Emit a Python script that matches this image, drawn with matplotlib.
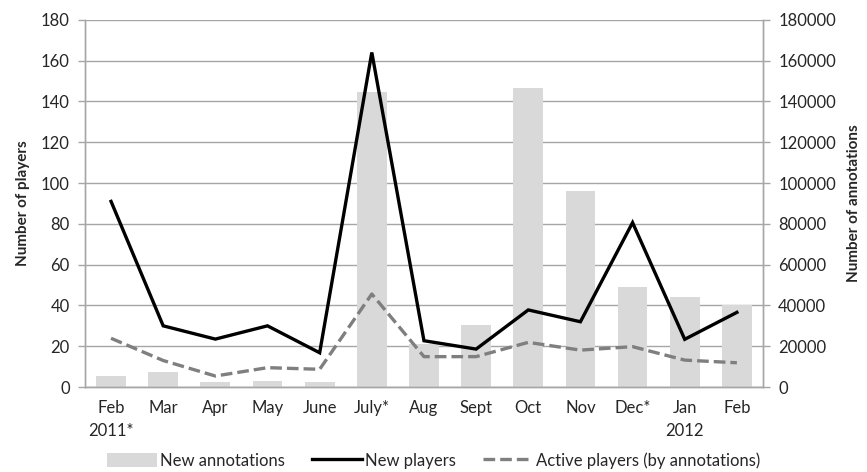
import matplotlib
matplotlib.use("Agg")
import matplotlib.pyplot as plt
import numpy as np
from matplotlib.patches import Patch
from matplotlib.lines import Line2D

plt.rcParams['font.family'] = ['Lato', 'DejaVu Sans']

months = ["Feb\n2011*", "Mar", "Apr", "May", "June", "July*", "Aug",
          "Sept", "Oct", "Nov", "Dec*", "Jan\n2012", "Feb"]
new_annotations = [5500, 7500, 2600, 3100, 2600, 144500, 21000,
                   30400, 146500, 96000, 49000, 44300, 40200]
new_players = [91, 30, 23.5, 30, 16.8, 164, 22.7,
               18.6, 37.8, 32, 80.6, 23.4, 36.6]
active_players = [23.9, 13, 5.4, 9.5, 8.7, 45.6, 14.9,
                  14.9, 21.9, 18.1, 19.8, 13.2, 11.9]

axis_grey = "#a6a6a6"
text_col = "#262626"
fs = 12

fig = plt.figure(figsize=(8.67, 4.72), dpi=100)
ax = fig.add_axes([0.098, 0.180, 0.782, 0.778])
ax2 = ax.twinx()

x = np.arange(len(months))

# bars on the right-hand axis, gridlines behind them
ax2.bar(x, new_annotations, width=0.57, color="#d9d9d9", zorder=2)
ax2.set_ylim(0, 180000)
ax2.set_yticks(np.arange(0, 180001, 20000))
ax2.set_axisbelow(True)
ax2.yaxis.grid(True, color=axis_grey, linewidth=1.0)

# player lines on the left-hand axis, drawn above the bars
ax.set_zorder(ax2.get_zorder() + 1)
ax.patch.set_visible(False)
ax.plot(x, new_players, color="black", linewidth=2.4, solid_joinstyle="miter")
ax.plot(x, active_players, color="#7f7f7f", linewidth=2.4, linestyle=(0, (3.5, 1.5)))
ax.set_ylim(0, 180)
ax.set_yticks(np.arange(0, 181, 20))
ax.set_xlim(-0.5, len(months) - 0.5)
ax.set_xticks(x)
ax.set_xticklabels(months, linespacing=1.55)

for a in (ax, ax2):
    a.spines["top"].set_visible(False)
    for side in ("left", "right", "bottom"):
        a.spines[side].set_color(axis_grey)
        a.spines[side].set_linewidth(1.0)
    a.tick_params(axis="y", colors=axis_grey, labelcolor=text_col, labelsize=fs, length=5, width=1.0, pad=6)
ax.tick_params(axis="x", length=0, labelcolor=text_col, labelsize=fs, pad=9)

ax.set_ylabel("Number of players", fontsize=11, color=text_col, fontweight="bold", labelpad=8)
ax2.set_ylabel("Number of annotations", fontsize=11, color=text_col, fontweight="bold", labelpad=8)

handles = [
    Patch(facecolor="#d9d9d9", edgecolor="none"),
    Line2D([], [], color="black", linewidth=2.4),
    Line2D([], [], color="#7f7f7f", linewidth=2.4, linestyle=(0, (3.5, 1.5))),
]
labels = ["New annotations", "New players", "Active players (by annotations)"]
fig.legend(handles, labels, loc="lower center", bbox_to_anchor=(0.5, -0.025), ncol=3,
           frameon=False, fontsize=fs, handlelength=3.0, handleheight=0.9,
           handletextpad=0.2, columnspacing=1.6, labelcolor=text_col)

fig.savefig("out.png", dpi=100)
